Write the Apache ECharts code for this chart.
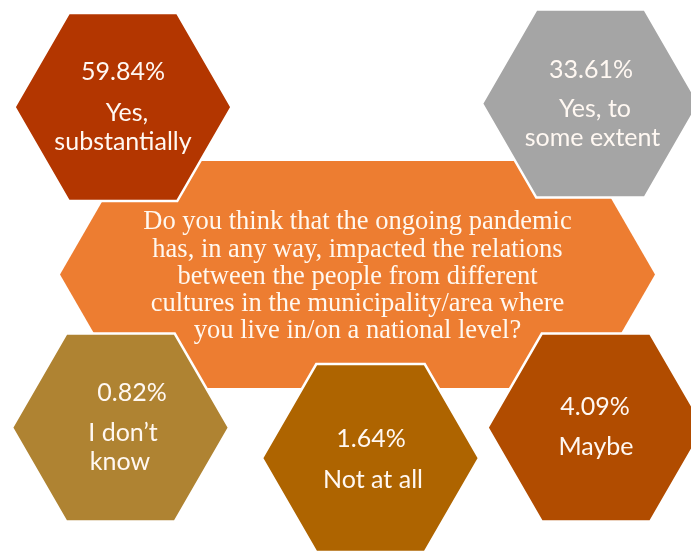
<!DOCTYPE html>
<html>
<head>
<meta charset="utf-8">
<script src="https://cdn.jsdelivr.net/npm/echarts@6/dist/echarts.min.js"></script>
<style>
  html, body { margin: 0; padding: 0; background: #ffffff; }
  #chart { width: 691px; height: 552px; }
</style>
</head>
<body>
<div id="chart"></div>
<script>
// ---- data ----
const categories = ['Yes, substantially', 'Yes, to some extent', 'I don\u2019t know', 'Not at all', 'Maybe'];
const labelLines = [['Yes,', 'substantially'], ['Yes, to', 'some extent'], ['I don\u2019t', 'know'], ['Not at all'], ['Maybe']];
const values = [59.84, 33.61, 0.82, 1.64, 4.09];
const questionLines = [
  'Do you think that the ongoing pandemic',
  'has, in any way, impacted the relations',
  'between the people from different',
  'cultures in the municipality/area where',
  'you live in/on a national level?'
];

// ---- layout & style (pixel-like units on hidden axes) ----
const hexColors = ['#B33600', '#A5A5A5', '#AF8332', '#AE6400', '#B14C00'];
const questionColor = '#ED7D31';
const hexCenters = [[123, 107], [590.5, 103.5], [120.5, 427.5], [370.5, 458], [596, 427.5]];
const hexHalfW = 108.5, hexHalfH = 94;
const pctPos = [[123, 72], [591, 70], [132, 393], [371, 439], [595, 407]];
const linePos = [[[127, 113], [123, 142]], [[595, 109], [592.5, 138]], [[123, 433], [120, 462]], [[373, 480]], [[596, 447]]];
const qCenter = [357.5, 274.5], qHalfW = 297.5, qHalfH = 113.5;
const qLineY = [222, 250, 277, 304, 331];

function hexPoints(api, cx, cy, hw, hh) {
  const inset = hh / Math.sqrt(3);
  const pts = [[cx - hw, cy], [cx - hw + inset, cy - hh], [cx + hw - inset, cy - hh],
               [cx + hw, cy], [cx + hw - inset, cy + hh], [cx - hw + inset, cy + hh]];
  return pts.map(p => api.coord(p));
}

const labelFont = '25px Lato, "Open Sans", sans-serif';
const chart = echarts.init(document.getElementById('chart'), null, { renderer: 'canvas' });
chart.setOption({
  animation: false,
  backgroundColor: '#ffffff',
  grid: { left: 0, right: 0, top: 0, bottom: 0 },
  xAxis: { type: 'value', min: 0, max: 691, show: false },
  yAxis: { type: 'value', min: 0, max: 552, inverse: true, show: false },
  series: [
    {
      type: 'custom',
      z: 1,
      data: [[0]],
      renderItem: function (params, api) {
        const children = [{
          type: 'polygon',
          shape: { points: hexPoints(api, qCenter[0], qCenter[1], qHalfW, qHalfH) },
          style: { fill: questionColor }
        }];
        questionLines.forEach((t, i) => {
          const p = api.coord([qCenter[0], qLineY[i]]);
          children.push({
            type: 'text',
            style: {
              text: t, x: p[0], y: p[1], align: 'center', verticalAlign: 'middle',
              fill: '#FFF8F0', font: '26.5px "Liberation Serif", "Times New Roman", serif'
            }
          });
        });
        return { type: 'group', children: children };
      }
    },
    {
      type: 'custom',
      z: 2,
      data: categories.map((c, i) => [i, values[i]]),
      renderItem: function (params, api) {
        const i = params.dataIndex;
        const c = hexCenters[i];
        const children = [{
          type: 'polygon',
          shape: { points: hexPoints(api, c[0], c[1], hexHalfW, hexHalfH) },
          style: { fill: hexColors[i], stroke: '#ffffff', lineWidth: 2.5 }
        }];
        const pp = api.coord(pctPos[i]);
        children.push({
          type: 'text',
          style: {
            text: api.value(1).toFixed(2) + '%', x: pp[0], y: pp[1], align: 'center', verticalAlign: 'middle',
            fill: '#FFF8F2', font: labelFont
          }
        });
        labelLines[i].forEach((t, j) => {
          const lp = api.coord(linePos[i][j]);
          children.push({
            type: 'text',
            style: {
              text: t, x: lp[0], y: lp[1], align: 'center', verticalAlign: 'middle',
              fill: '#FFF8F2', font: labelFont
            }
          });
        });
        return { type: 'group', children: children };
      }
    }
  ]
});
</script>
</body>
</html>
